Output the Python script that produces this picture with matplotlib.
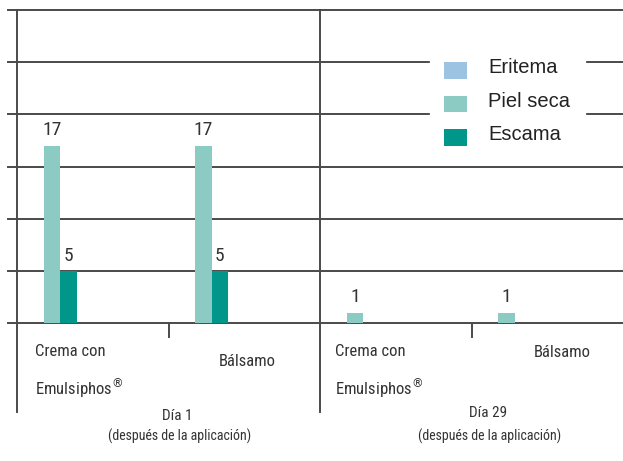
import matplotlib.pyplot as plt
from matplotlib.patches import Patch
import numpy as np

# Data
groups = ["Día 1", "Día 29"]
group_sub = "(después de la aplicación)"
products = ["Crema con\nEmulsiphos$^{®}$", "Bálsamo", "Crema con\nEmulsiphos$^{®}$", "Bálsamo"]
series = ["Eritema", "Piel seca", "Escama"]
eritema = [0, 0, 0, 0]
piel_seca = [17, 17, 1, 1]
escama = [5, 5, 0, 0]
colors = ["#9dc3e3", "#8ccbc3", "#00968a"]

narrow = ["Roboto Condensed", "DejaVu Sans"]
grid_c = "#4a4a4a"
text_c = "#333333"

fig = plt.figure(figsize=(6.23, 4.61), dpi=100)
ax = fig.add_axes([17/623, (461-323)/461, 606/623, 313/461])
ax.set_xlim(0, 4)
ax.set_ylim(0, 30)
ax.axis("off")

# grid lines, extended a bit to the left
for yv in range(0, 31, 5):
    ax.plot([-0.06, 4], [yv, yv], color=grid_c, lw=1.4, clip_on=False, zorder=1)
# left axis and group divider
ax.plot([0, 0], [30, -8.5], color=grid_c, lw=1.4, clip_on=False)
ax.plot([2, 2], [30, -8.5], color=grid_c, lw=1.4, clip_on=False)
# ticks between categories
for xt in [1, 3]:
    ax.plot([xt, xt], [0, -1.3], color=grid_c, lw=1.4, clip_on=False)

# bars
x = np.arange(4)
w = 0.109
offs = [0.066, 0.175, 0.284]
for vals, off, c in zip([eritema, piel_seca, escama], offs, colors):
    ax.bar(x + off, vals, width=w, align="edge", color=c, zorder=2)
    for xi, v in zip(x, vals):
        if v > 0:
            ax.text(xi + off + w/2, v + 0.6, str(v), ha="center", va="bottom",
                    fontsize=14, family=narrow, color=text_c)

# category labels
lab_x = [0.12, 0.33, 0.10, 0.41]
lab_y = [-2.0, -3.7, -2.0, -2.8]
for xi, lx, ly, t in zip(x, lab_x, lab_y, products):
    va = "top" if "\n" in t else "center"
    ax.text(xi + lx, ly, t, ha="left", va=va, fontsize=12, family=narrow,
            color=text_c, linespacing=1.9, clip_on=False)

# group labels
for gx, gy, g in zip([1.06, 3.11], [-8.9, -8.6], groups):
    ax.text(gx, gy, g, ha="center", va="center", fontsize=11, family=narrow, color=text_c)
    ax.text(gx + 0.01, -10.9, group_sub, ha="center", va="center", fontsize=10,
            family=narrow, color=text_c)

# legend
handles = [Patch(facecolor=c, edgecolor="none") for c in colors]
leg = ax.legend(handles, series, loc="upper left", bbox_to_anchor=(430/623, 1 - 44/461),
                bbox_transform=fig.transFigure, borderaxespad=0, frameon=True,
                fancybox=False, framealpha=1, edgecolor="white", facecolor="white",
                prop={"family": "Liberation Sans", "size": 14.5}, borderpad=0.7,
                labelspacing=0.7, handlelength=1.15, handleheight=0.9, handletextpad=1.05)
for t in leg.get_texts():
    t.set_color("#222222")
for h in leg.legend_handles:
    h.set_y(h.get_y() - 3)
leg.set_zorder(5)

fig.savefig("out.png", dpi=100)
